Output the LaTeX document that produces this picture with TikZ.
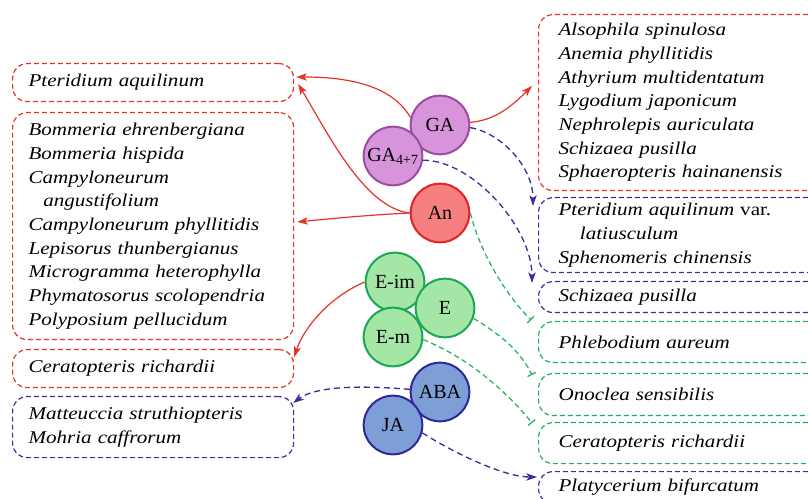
\documentclass[tikz,border=0pt]{standalone}
\usepackage{fontspec}
\setmainfont[FakeStretch=1.17]{Liberation Serif}
\newfontfamily\plainserif{Liberation Serif}
\usetikzlibrary{arrows.meta,calc}
\definecolor{cred}{HTML}{E3332A}
\definecolor{cblue}{HTML}{3A2E9E}
\definecolor{cgreen}{HTML}{22B05A}
\definecolor{gafill}{HTML}{D894DA}
\definecolor{gadraw}{HTML}{9A4EA0}
\definecolor{anfill}{HTML}{F67F7F}
\definecolor{andraw}{HTML}{E12420}
\definecolor{efill}{HTML}{A3E6A6}
\definecolor{edraw}{HTML}{1AA852}
\definecolor{jfill}{HTML}{7E9ED8}
\definecolor{jdraw}{HTML}{2E2898}
\begin{document}
\begin{tikzpicture}[x=0.75pt,y=-0.75pt,
  box/.style={draw=#1, dash pattern=on 3.75pt off 2.25pt, rounded corners=11pt, line width=0.9pt,
    anchor=north west, align=left, font=\itshape\fontsize{13.5}{17.75}\selectfont, inner ysep=0pt},
  lbox/.style={box=#1, minimum width=210.75pt, text width=186.75pt, inner xsep=12pt},
  rbox/.style={box=#1, minimum width=219pt, text width=189pt, inner xsep=15pt},
  hormone/.style 2 args={circle, draw=#1, fill=#2, line width=1.5pt, minimum size=44pt,
    inner sep=0pt, font=\plainserif\fontsize{15}{15}\selectfont},
  redarr/.style={draw=cred, line width=0.9pt, -{Stealth[length=8pt,width=5.5pt,inset=2pt]}},
  bluearr/.style={draw=cblue, line width=1pt, dash pattern=on 4.5pt off 3pt,
    -{Stealth[length=8pt,width=5.5pt,inset=2pt]}},
  greenbar/.style={draw=cgreen, line width=0.9pt, dash pattern=on 4pt off 2.5pt, -{Bar[width=7pt]}},
]
\path[use as bounding box] (0,0) rectangle (808,499);
\clip (0,0) rectangle (808,499);

% left boxes
\node[lbox=cred, minimum height=28.5pt] (L1) at (12,63) {Pteridium aquilinum};
\node[lbox=cred, minimum height=170.25pt] (L2) at (12,112) {Bommeria ehrenbergiana\\Bommeria hispida\\Campyloneurum\\\hspace*{11pt}angustifolium\\Campyloneurum phyllitidis\\Lepisorus thunbergianus\\Microgramma heterophylla\\Phymatosorus scolopendria\\Polyposium pellucidum};
\node[lbox=cred, minimum height=28.5pt] (L3) at (12,349) {Ceratopteris richardii};
\node[lbox=cblue, minimum height=45.75pt] (L4) at (12,396) {Matteuccia struthiopteris\\Mohria caffrorum};

% right boxes
\node[rbox=cred, minimum height=132pt, minimum width=201.75pt] (R1) at (538,14) {Alsophila spinulosa\\Anemia phyllitidis\\Athyrium multidentatum\\Lygodium japonicum\\Nephrolepis auriculata\\Schizaea pusilla\\Sphaeropteris hainanensis};
\node[rbox=cblue, minimum height=56.25pt] (R2) at (538,197) {Pteridium aquilinum {\upshape var.}\\\hspace*{16pt}latiusculum\\Sphenomeris chinensis};
\node[rbox=cblue, minimum height=23.25pt] (R3) at (538,281) {Schizaea pusilla};
\node[rbox=cgreen, minimum height=30.75pt] (R4) at (538,321) {Phlebodium aureum};
\node[rbox=cgreen, minimum height=31.5pt] (R5) at (538,373) {Onoclea sensibilis};
\node[rbox=cgreen, minimum height=30.75pt] (R6) at (538,422) {Ceratopteris richardii};
\node[rbox=cblue, minimum height=24pt] (R7) at (538,471) {Platycerium bifurcatum};

% hormone circles
\node[hormone={gadraw}{gafill}] (GA) at (440,125) {GA};
\node[hormone={gadraw}{gafill}] (GA47) at (393,156) {GA\textsubscript{4+7}};
\node[hormone={andraw}{anfill}] (An) at (440,213) {An};
\node[hormone={edraw}{efill}] (Eim) at (395,282) {E-im};
\node[hormone={edraw}{efill}] (Em) at (393,337) {E-m};
\node[hormone={edraw}{efill}] (E) at (445,308) {E};
\node[hormone={jdraw}{jfill}] (ABA) at (440,392) {ABA};
\node[hormone={jdraw}{jfill}] (JA) at (393,425) {JA};

% connectors
\draw[redarr] (GA.166) .. controls +(-20,-35) and +(45,0) .. ($(L1.north east)+(2,14)$);
\draw[redarr] (An.west) .. controls +(-45,-5) and +(30,50) .. ($(L1.north east)+(4,21)$);
\draw[redarr] (An.west) .. controls +(-40,2) and +(40,-4) .. ($(L2.north east)+(3,110)$);
\draw[redarr] (GA.5) .. controls +(25,-2) and +(-20,20) .. ($(R1.north west)+(-6,72)$);
\draw[bluearr] (GA.-5) .. controls +(30,5) and +(0,-40) .. ($(R2.north west)+(-5,9)$);
\draw[bluearr] (GA47.-8) .. controls +(50,0) and +(0,-55) .. ($(R3.north west)+(-6,2)$);
\draw[greenbar] (An.east) .. controls +(10,40) and +(-25,-25) .. ($(R4.north west)+(-7,-1)$);
\draw[greenbar] (E.-20) .. controls +(25,15) and +(-12,-25) .. ($(R5.north west)+(-6,2)$);
\draw[greenbar] (Em.-5) .. controls +(50,20) and +(-20,-25) .. ($(R6.north west)+(-6,1)$);
\draw[redarr] (Eim.west) .. controls +(-35,15) and +(10,-30) .. ($(L3.north east)+(0,8)$);
\draw[bluearr] (ABA.175) .. controls +(-60,-5) and +(20,-15) .. ($(L4.north east)+(-1,7)$);
\draw[bluearr] (JA.-15) .. controls +(40,25) and +(-30,0) .. ($(R7.north west)+(-1,6)$);
\end{tikzpicture}
\end{document}
